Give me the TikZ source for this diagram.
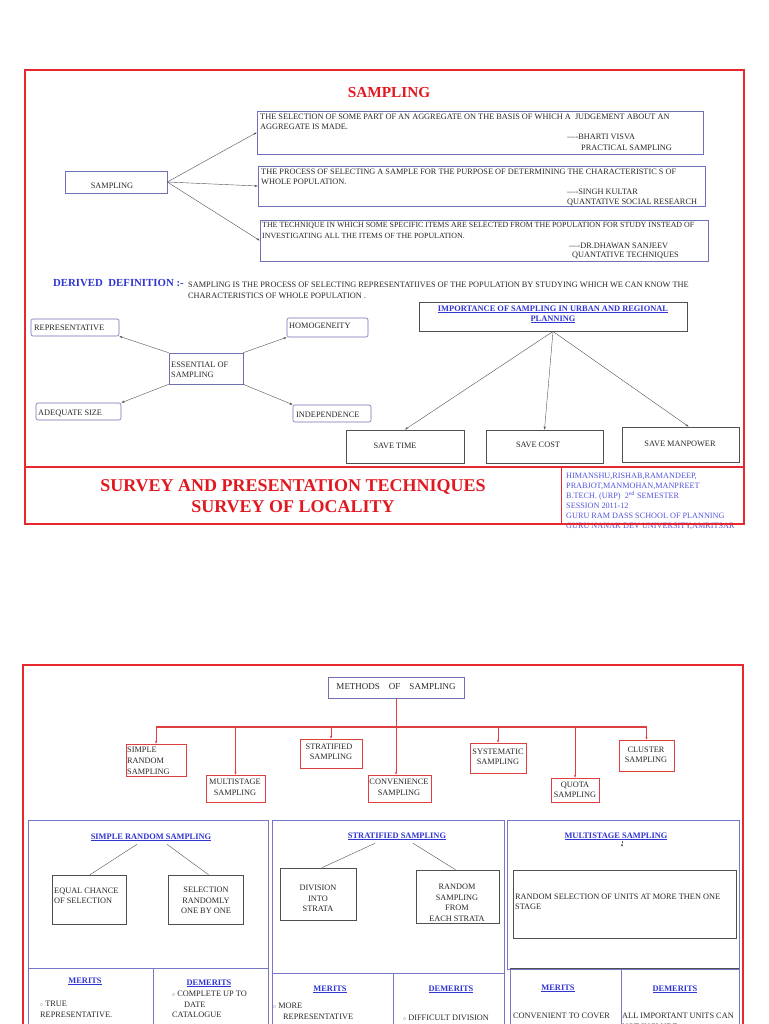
\documentclass[tikz,border=0pt]{standalone}
\usepackage{fontspec}
\setmainfont{Liberation Serif}
\usetikzlibrary{fit,arrows.meta,calc}
\definecolor{fred}{RGB}{232,40,48}
\definecolor{tred}{RGB}{226,24,32}
\definecolor{bblue}{RGB}{48,52,210}
\definecolor{fblue}{RGB}{84,84,222}
\definecolor{bxb}{RGB}{112,112,180}
\definecolor{pbl}{RGB}{118,118,196}
\definecolor{mred}{RGB}{222,64,64}
\definecolor{lg}{RGB}{80,80,80}
\definecolor{txt}{RGB}{40,40,40}
\newcommand\myfs{\fontsize{8.3}{9}\selectfont}
\newcommand\myfb{\fontsize{8.4}{9}\selectfont\bfseries}
\begin{document}
\begin{tikzpicture}[x=1pt,y=-1pt,
  tx/.style={inner sep=0pt, anchor=base west, font=\myfs, text=txt},
  tc/.style={inner sep=0pt, anchor=base, font=\myfs, text=txt},
  hd/.style={inner sep=0pt, anchor=base, font=\myfb, text=bblue},
  ft/.style={inner sep=0pt, anchor=base west, font=\fontsize{8.2}{9}\selectfont, text=fblue},
  bx/.style={draw=#1, inner sep=0pt, line width=0.6pt},
  rbx/.style={draw=#1, inner sep=0pt, line width=0.6pt, rounded corners=2pt},
  arr/.style={draw=lg, line width=0.4pt, -{Stealth[length=3.2pt,width=2.2pt]}},
  ln/.style={draw=lg, line width=0.4pt},
  rarr/.style={draw=mred, line width=0.5pt, -{Stealth[length=3pt,width=2.2pt]}},
]
\useasboundingbox (0,0) rectangle (768,1024);
\clip (0,0) rectangle (768,1024);
\fill[white] (0,0) rectangle (768,1024);

% ===================== TOP SHEET =====================
\draw[fred, line width=1.1pt] (25,70) rectangle (744,524);
\draw[fred, line width=1.1pt] (25,467) -- (744,467);
\draw[fred, line width=0.8pt] (561,467) -- (561,524);

\node[inner sep=0pt, anchor=base, font=\fontsize{15.3}{17}\selectfont\bfseries, text=tred] (title) at (389,98) {SAMPLING};

% definition boxes
\node[bx=bxb, fit={(257,111) (703,154)}] (b1) {};
\node[bx=bxb, fit={(258,166) (705,206)}] (b2) {};
\node[bx=bxb, fit={(260,220) (708,261)}] (b3) {};
\node[bx=bxb, fit={(65,171) (167,193)}] (samp) {};
\node[tc] (sampT) at (112,189) {SAMPLING};

\node[tx] (b1a) at (260,120) {THE SELECTION OF SOME PART OF AN AGGREGATE ON THE BASIS OF WHICH A\ \ JUDGEMENT ABOUT AN};
\node[tx] (b1b) at (260,130) {AGGREGATE IS MADE.};
\node[tx] (b1c) at (567,140) {----BHARTI VISVA};
\node[tx] (b1d) at (581,151) {PRACTICAL SAMPLING};

\node[tx] (b2a) at (261,175) {THE PROCESS OF SELECTING A SAMPLE FOR THE PURPOSE OF DETERMINING THE CHARACTERISTIC S OF};
\node[tx] (b2b) at (261,185) {WHOLE POPULATION.};
\node[tx] (b2c) at (567,195) {----SINGH KULTAR};
\node[tx] (b2d) at (567,205) {QUANTATIVE SOCIAL RESEARCH};

\node[tx, font=\fontsize{7.9}{9}\selectfont] (b3a) at (262,228) {THE TECHNIQUE IN WHICH SOME SPECIFIC ITEMS ARE SELECTED FROM THE POPULATION FOR STUDY INSTEAD OF};
\node[tx, font=\fontsize{7.9}{9}\selectfont] (b3b) at (262,238) {INVESTIGATING ALL THE ITEMS OF THE POPULATION.};
\node[tx] (b3c) at (569,248) {----DR.DHAWAN SANJEEV};
\node[tx] (b3d) at (572,258) {QUANTATIVE TECHNIQUES};

\draw[arr] (samp.east) -- (b1.west);
\draw[arr] (samp.east) -- (b2.west);
\draw[arr] (samp.east) -- (b3.west);

% derived definition
\node[inner sep=0pt, anchor=base west, font=\fontsize{10.8}{12}\selectfont\bfseries, text=bblue] (dd) at (53,286) {DERIVED\ \ DEFINITION :-};
\node[tx] (dd1) at (188,287) {SAMPLING IS THE PROCESS OF SELECTING REPRESENTATIIVES OF THE POPULATION BY STUDYING WHICH WE CAN KNOW THE};
\node[tx] (dd2) at (188,298) {CHARACTERISTICS OF WHOLE POPULATION .};

% essentials
\node[rbx=bxb, fit={(31,319) (119,336)}] (rep) {};
\node[tx] (repT) at (34,330) {REPRESENTATIVE};
\node[rbx=bxb, fit={(287,318) (368,337)}] (hom) {};
\node[tx] (homT) at (289,328) {HOMOGENEITY};
\node[bx=bxb, fit={(169,353) (243,384)}] (ess) {};
\node[tx] (essA) at (171,367) {ESSENTIAL OF};
\node[tx] (essB) at (171,377) {SAMPLING};
\node[rbx=bxb, fit={(36,403) (121,420)}] (ade) {};
\node[tx] (adeT) at (38,415) {ADEQUATE SIZE};
\node[rbx=bxb, fit={(293,405) (371,422)}] (ind) {};
\node[tx] (indT) at (296,417) {INDEPENDENCE};

\draw[arr] (ess.north west) -- (rep.south east);
\draw[arr] (ess.north east) -- (hom.south west);
\draw[arr] (ess.south west) -- (ade.north east);
\draw[arr] (ess.south east) -- (ind.north west);

% importance
\node[bx=lg, line width=0.9pt, fit={(419,302) (687,331)}] (imp) {};
\node[hd] (impA) at (553,311) {\underline{IMPORTANCE OF SAMPLING IN URBAN AND REGIONAL}};
\node[hd] (impB) at (553,321) {\underline{PLANNING}};

\node[bx=lg, line width=0.9pt, fit={(346,430) (464,463)}] (st) {};
\node[tc] (stT) at (395,448) {SAVE TIME};
\node[bx=lg, line width=0.9pt, fit={(486,430) (603,463)}] (sc) {};
\node[tc] (scT) at (538,447) {SAVE COST};
\node[bx=lg, line width=0.9pt, fit={(622,427) (739,462)}] (sm) {};
\node[tc] (smT) at (680,446) {SAVE MANPOWER};

\draw[arr] (imp.south) -- (st.north);
\draw[arr] (imp.south) -- (sc.north);
\draw[arr] (imp.south) -- ($(sm.north)+(8,0)$);

% footer
\node[inner sep=0pt, anchor=base, font=\fontsize{18}{20}\selectfont\bfseries, text=tred] (sv1) at (293,491) {SURVEY AND PRESENTATION TECHNIQUES};
\node[inner sep=0pt, anchor=base, font=\fontsize{18}{20}\selectfont\bfseries, text=tred] (sv2) at (293,512) {SURVEY OF LOCALITY};
\node[ft] (f1) at (566,478) {HIMANSHU,RISHAB,RAMANDEEP,};
\node[ft] (f2) at (566,488) {PRABJOT,MANMOHAN,MANPREET};
\node[ft] (f3) at (566,498) {B.TECH. (URP)\ \ 2\textsuperscript{nd} SEMESTER};
\node[ft] (f4) at (566,508) {SESSION 2011-12};
\node[ft] (f5) at (566,518) {GURU RAM DASS SCHOOL OF PLANNING};
\node[ft] (f6) at (566,528) {GURU NANAK DEV UNIVERSITY,AMRITSAR};
\draw[fred, line width=1.1pt] (25,524) -- (744,524);

% ===================== BOTTOM SHEET =====================
\draw[fred, line width=1.1pt] (23,665) rectangle (743,1040);

\node[bx=bxb, fit={(328,677) (464,698)}] (meth) {};
\node[tc, font=\fontsize{9}{10}\selectfont] (methT) at (396,689) {METHODS\ \ \ \ OF\ \ \ \ SAMPLING};

\node[bx=mred, fit={(126,744) (186,776)}] (srs) {};
\node[tx] (srs1) at (127,752) {SIMPLE};
\node[tx] (srs2) at (127,763) {RANDOM};
\node[tx] (srs3) at (127,774) {SAMPLING};
\node[bx=mred, fit={(206,775) (265,802)}] (mst) {};
\node[tc] (mst1) at (235,784) {MULTISTAGE};
\node[tc] (mst2) at (235,795) {SAMPLING};
\node[bx=mred, fit={(300,739) (362,768)}] (str) {};
\node[tc] (str1) at (329,749) {STRATIFIED};
\node[tc] (str2) at (331,759) {SAMPLING};
\node[bx=mred, fit={(368,775) (431,802)}] (conv) {};
\node[tc] (conv1) at (399,784) {CONVENIENCE};
\node[tc] (conv2) at (399,795) {SAMPLING};
\node[bx=mred, fit={(470,743) (526,773)}] (sys) {};
\node[tc] (sys1) at (498,754) {SYSTEMATIC};
\node[tc] (sys2) at (498,764) {SAMPLING};
\node[bx=mred, fit={(551,778) (599,802)}] (quo) {};
\node[tc] (quo1) at (575,787) {QUOTA};
\node[tc] (quo2) at (575,797) {SAMPLING};
\node[bx=mred, fit={(619,740) (674,771)}] (clu) {};
\node[tc] (clu1) at (646,752) {CLUSTER};
\node[tc] (clu2) at (646,762) {SAMPLING};

\coordinate (bar) at (396,727);
\draw[mred, line width=1.5pt] (srs.north |- bar) -- (clu.north |- bar);
\draw[rarr] (meth.south) -- (meth.south |- conv.north);
\draw[rarr] (srs.north |- bar) -- (srs.north);
\draw[rarr] (mst.north |- bar) -- (mst.north);
\draw[rarr] (str.north |- bar) -- (str.north);
\draw[rarr] (sys.north |- bar) -- (sys.north);
\draw[rarr] (quo.north |- bar) -- (quo.north);
\draw[rarr] (clu.north |- bar) -- (clu.north);

% panels
\node[bx=pbl, fit={(28,820) (268,968)}] (p1) {};
\node[bx=pbl, fit={(28,968) (153,1040)}] (p1m) {};
\node[bx=pbl, fit={(153,968) (268,1040)}] (p1d) {};
\node[bx=pbl, fit={(272,820) (504,973)}] (p2) {};
\node[bx=pbl, fit={(272,973) (393,1040)}] (p2m) {};
\node[bx=pbl, fit={(393,973) (504,1040)}] (p2d) {};
\node[bx=pbl, fit={(507,820) (739,969)}] (p3) {};
\node[bx=pbl, fit={(510,969) (621,1040)}] (p3m) {};
\node[bx=pbl, fit={(621,969) (739,1040)}] (p3d) {};
\draw[lg, line width=1pt] (p3m.north west) -- (p3d.north east);

% panel 1
\node[hd] (srsT) at (151,839) {\underline{SIMPLE RANDOM SAMPLING}};
\node[bx=lg, fit={(52,875) (126,924)}] (eq) {};
\node[tx] (eq1) at (54,893) {EQUAL CHANCE};
\node[tx] (eq2) at (54,903) {OF SELECTION};
\node[bx=lg, fit={(168,875) (243,924)}] (sel) {};
\node[tc] (sel1) at (206,892) {SELECTION};
\node[tc] (sel2) at (206,903) {RANDOMLY};
\node[tc] (sel3) at (206,913) {ONE BY ONE};
\draw[ln] ($(srsT.south)+(-14,3)$) -- ($(eq.north)+(1,0)$);
\draw[ln] ($(srsT.south)+(16,3)$) -- ($(sel.north)+(3,0)$);

\node[hd] (m1) at (85,983) {\underline{MERITS}};
\node[hd] (d1) at (209,985) {\underline{DEMERITS}};
\node[tx] (m1a) at (40,1006) {{\fontsize{5}{5}\selectfont ○} TRUE};
\node[tx] (m1b) at (40,1017) {REPRESENTATIVE.};
\node[tx] (d1a) at (172,996) {{\fontsize{5}{5}\selectfont ○} COMPLETE UP TO};
\node[tx] (d1b) at (184,1007) {DATE};
\node[tx] (d1c) at (172,1017) {CATALOGUE};

% panel 2
\node[hd] (strT) at (397,838) {\underline{STRATIFIED SAMPLING}};
\node[bx=lg, fit={(280,868) (356,920)}] (div) {};
\node[tc] (div1) at (318,890) {DIVISION};
\node[tc] (div2) at (318,901) {INTO};
\node[tc] (div3) at (318,911) {STRATA};
\node[bx=lg, fit={(416,870) (499,923)}] (rs) {};
\node[tc] (rs1) at (457,889) {RANDOM};
\node[tc] (rs2) at (457,900) {SAMPLING};
\node[tc] (rs3) at (457,910) {FROM};
\node[tc] (rs4) at (457,921) {EACH STRATA};
\draw[ln] ($(strT.south)+(-22,3)$) -- ($(div.north)+(4,0)$);
\draw[ln] ($(strT.south)+(16,3)$) -- ($(rs.north)+(-2,0)$);

\node[hd] (m2) at (330,991) {\underline{MERITS}};
\node[hd] (d2) at (451,991) {\underline{DEMERITS}};
\node[tx] (m2a) at (273,1008) {{\fontsize{5}{5}\selectfont ○} MORE};
\node[tx] (m2b) at (283,1019) {REPRESENTATIVE};
\node[tx] (m2c) at (283,1030) {ACCURATE};
\node[tx] (d2a) at (403,1020) {{\fontsize{5}{5}\selectfont ○} DIFFICULT DIVISION};

% panel 3
\node[hd] (msT) at (616,838) {\underline{MULTISTAGE SAMPLING}};
\node[bx=lg, fit={(513,870) (736,938)}] (msb) {};
\node[tx] (msb1) at (515,899) {RANDOM SELECTION OF UNITS AT MORE THEN ONE};
\node[tx] (msb2) at (515,909) {STAGE};
\draw[arr] ($(msT.south)+(6,3)$) -- ($(msT.south)+(6,3)$ |- msb.north);

\node[hd] (m3) at (558,990) {\underline{MERITS}};
\node[hd] (d3) at (675,991) {\underline{DEMERITS}};
\node[tx] (m3a) at (513,1018) {CONVENIENT TO COVER};
\node[tx] (d3a) at (622,1018) {ALL IMPORTANT UNITS CAN};
\node[tx] (d3b) at (622,1029) {NOT INCLUDE};
\end{tikzpicture}
\end{document}
